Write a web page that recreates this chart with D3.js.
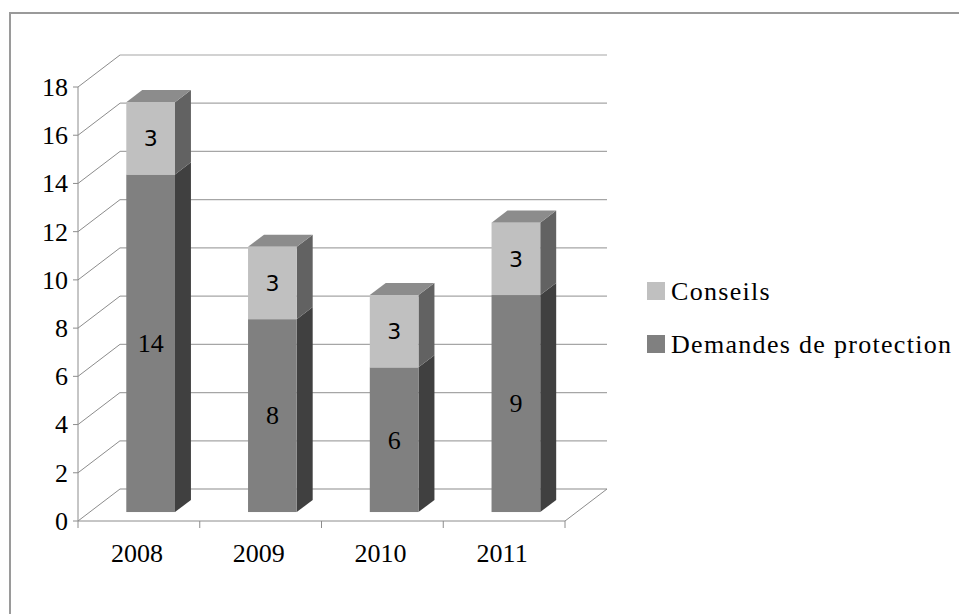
<!DOCTYPE html>
<html>
<head>
<meta charset="utf-8">
<script src="https://cdn.jsdelivr.net/npm/d3@7"></script>
<style>
  body { margin: 0; background: #fff; }
  svg { display: block; }
</style>
</head>
<body>
<svg id="chart" width="959" height="614"></svg>
<script>
// chart data
var years = ["2008", "2009", "2010", "2011"];
var demandes = [14, 8, 6, 9];
var conseils = [3, 3, 3, 3];
var seriesNames = ["Conseils", "Demandes de protection"];
var yTicks = [0, 2, 4, 6, 8, 10, 12, 14, 16, 18];

var SERIF = "Liberation Serif";
var SANS = "DejaVu Sans";

var svg = d3.select("#chart");

// outer frame
svg.append("path")
    .attr("d", "M10,614 L10,13 L959,13")
    .attr("fill", "none")
    .attr("stroke", "#9a9a9a")
    .attr("stroke-width", 2);

// front plane scales
var x = d3.scaleBand().domain(years).range([78, 565]).paddingInner(0.6).paddingOuter(0.3);
var xStep = d3.scaleBand().domain(years).range([78, 565]);
var y = d3.scaleLinear().domain([0, 18]).range([521, 87]);

// depth offset of the back wall
var DX = 42, DY = -32;
function px(xv, d) { return xv + d * DX; }
function py(yv, d) { return y(yv) + d * DY; }

var grid = svg.append("g").attr("class", "grid");

// back wall gridlines + diagonals on the left wall
yTicks.forEach(function (t) {
    grid.append("line")
        .attr("x1", px(78, 1)).attr("y1", py(t, 1))
        .attr("x2", px(565, 1)).attr("y2", py(t, 1))
        .attr("stroke", t === 0 ? "#8c8c8c" : "#a6a6a6")
        .attr("stroke-width", 1.2);
    grid.append("line")
        .attr("x1", 78).attr("y1", y(t))
        .attr("x2", px(78, 1)).attr("y2", py(t, 1))
        .attr("stroke", "#8c8c8c")
        .attr("stroke-width", 1);
});

// floor right edge
grid.append("line")
    .attr("x1", 565).attr("y1", y(0))
    .attr("x2", px(565, 1)).attr("y2", py(0, 1))
    .attr("stroke", "#8c8c8c");

// front axes
var axisG = svg.append("g").attr("class", "axes");
axisG.append("line")
    .attr("x1", 78).attr("y1", y(0)).attr("x2", 78).attr("y2", y(18))
    .attr("stroke", "#8c8c8c");
axisG.append("line")
    .attr("x1", 78).attr("y1", y(0)).attr("x2", 565).attr("y2", y(0))
    .attr("stroke", "#8c8c8c");

axisG.selectAll(".ytick").data(yTicks).enter()
    .append("line")
    .attr("x1", 73).attr("x2", 78)
    .attr("y1", function (d) { return y(d); })
    .attr("y2", function (d) { return y(d); })
    .attr("stroke", "#8c8c8c");

axisG.selectAll(".ylabel").data(yTicks).enter()
    .append("text")
    .attr("font-family", SERIF)
    .attr("font-size", 26)
    .attr("x", 68)
    .attr("y", function (d) { return y(d); })
    .attr("dy", "0.34em")
    .attr("text-anchor", "end")
    .text(function (d) { return d; });

var xTickPos = years.map(function (d) { return xStep(d); }).concat([565]);
axisG.selectAll(".xtick").data(xTickPos).enter()
    .append("line")
    .attr("x1", function (d) { return d; })
    .attr("x2", function (d) { return d; })
    .attr("y1", y(0)).attr("y2", y(0) + 7)
    .attr("stroke", "#8c8c8c");

axisG.selectAll(".xlabel").data(years).enter()
    .append("text")
    .attr("font-family", SERIF)
    .attr("font-size", 26)
    .attr("x", function (d) { return xStep(d) + xStep.bandwidth() / 2 - 2; })
    .attr("y", 562)
    .attr("text-anchor", "middle")
    .text(function (d) { return d; });

// stacked 3D bars
var D0 = 0.28, D1 = 0.66;
var colors = {
    demandes: { front: "#808080", side: "#404040", top: "#6e6e6e" },
    conseils: { front: "#c0c0c0", side: "#626262", top: "#8c8c8c" }
};

function drawBox(g, xl, w, v0, v1, c, isTop) {
    var xr = xl + w;
    // side face
    g.append("path")
        .attr("d", "M" + px(xr, D0) + "," + py(v0, D0) +
            "L" + px(xr, D1) + "," + py(v0, D1) +
            "L" + px(xr, D1) + "," + py(v1, D1) +
            "L" + px(xr, D0) + "," + py(v1, D0) + "Z")
        .attr("fill", c.side);
    if (isTop) {
        g.append("path")
            .attr("d", "M" + px(xl, D0) + "," + py(v1, D0) +
                "L" + px(xl, D1) + "," + py(v1, D1) +
                "L" + px(xr, D1) + "," + py(v1, D1) +
                "L" + px(xr, D0) + "," + py(v1, D0) + "Z")
            .attr("fill", c.top);
    }
    // front face
    g.append("rect")
        .attr("x", px(xl, D0))
        .attr("y", py(v1, D0))
        .attr("width", w)
        .attr("height", py(v0, D0) - py(v1, D0))
        .attr("fill", c.front);
}

var bars = svg.append("g").attr("class", "bars");
years.forEach(function (yr, i) {
    var g = bars.append("g");
    var xl = x(yr), w = x.bandwidth();
    drawBox(g, xl, w, 0, demandes[i], colors.demandes, false);
    drawBox(g, xl, w, demandes[i], demandes[i] + conseils[i], colors.conseils, true);

    // data labels
    g.append("text")
        .attr("font-family", SERIF)
        .attr("font-size", 26)
        .attr("x", px(xl + w / 2, D0))
        .attr("y", (py(0, D0) + py(demandes[i], D0)) / 2)
        .attr("dy", "0.34em")
        .attr("text-anchor", "middle")
        .text(demandes[i]);
    g.append("text")
        .attr("font-family", SANS)
        .attr("font-size", 22)
        .attr("x", px(xl + w / 2, D0))
        .attr("y", (py(demandes[i], D0) + py(demandes[i] + conseils[i], D0)) / 2)
        .attr("dy", "0.36em")
        .attr("text-anchor", "middle")
        .text(conseils[i]);
});

// legend
var legend = svg.append("g").attr("class", "legend");
var legendColors = [colors.conseils.front, colors.demandes.front];
seriesNames.forEach(function (name, i) {
    var ly = 290 + i * 53;
    legend.append("rect")
        .attr("x", 647).attr("y", ly - 8)
        .attr("width", 18).attr("height", 18)
        .attr("fill", legendColors[i]);
    legend.append("text")
        .attr("font-family", SERIF)
        .attr("font-size", 26)
        .attr("letter-spacing", 1.3)
        .attr("x", 671).attr("y", ly + 1)
        .attr("dy", "0.34em")
        .text(name);
});
</script>
</body>
</html>
